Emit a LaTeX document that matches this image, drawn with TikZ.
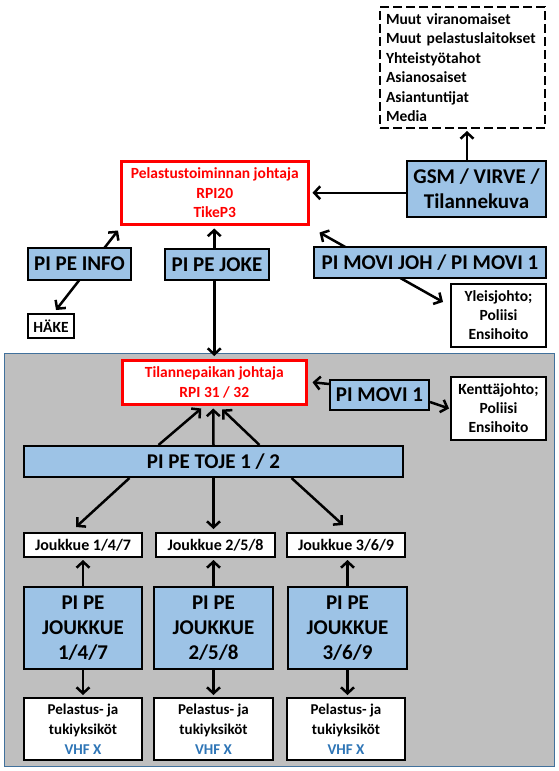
\documentclass[tikz,border=0pt]{standalone}
\usepackage{fontspec}
\setmainfont{Carlito}
\usetikzlibrary{arrows.meta,calc}
\definecolor{boxblue}{RGB}{157,195,230}
\definecolor{greybg}{RGB}{191,191,191}
\definecolor{greyedge}{RGB}{65,113,156}
\definecolor{redc}{RGB}{255,0,0}
\definecolor{vhf}{RGB}{46,117,182}
\pgfdeclarelayer{bg}\pgfdeclarelayer{conn}\pgfsetlayers{bg,conn,main}
\newcommand\fsz[2]{\fontsize{#1}{#2}\selectfont\bfseries}
\tikzset{
 box/.style={draw=black, line width=2pt, inner sep=0pt, anchor=north west, align=center},
 bluebox/.style={box, fill=boxblue, font=\fsz{21}{25}},
 whitebox/.style={box, fill=white, font=\fsz{15.5}{19}},
 redbox/.style={box, draw=redc, line width=2.5pt, fill=white, text=redc, font=\fsz{15.5}{19.5}},
 arr/.style={line width=2.5pt, -{Straight Barb[length=6pt,width=13pt]}},
 darr/.style={line width=2.5pt, {Straight Barb[length=6pt,width=13pt]}-{Straight Barb[length=6pt,width=13pt]}},
}
\begin{document}
\begin{tikzpicture}[x=1pt,y=-1pt]
\useasboundingbox (0,0) rectangle (559,771);
\begin{pgfonlayer}{bg}
\fill[white] (0,0) rectangle (559,771);
\draw[fill=greybg, draw=greyedge, line width=1pt] (4,353) rectangle (554,766);
\end{pgfonlayer}

% top part
\node[box, dash pattern=on 9pt off 4pt, fill=white, minimum height=121pt, text width=153pt, inner xsep=6pt, align=left, font=\fsz{15.5}{19.5}] (dash) at (379,6)
 {Muut viranomaiset\\Muut pelastuslaitokset\\Yhteistyötahot\\Asianosaiset\\Asiantuntijat\\Media};
\node[redbox, minimum width=187pt, minimum height=63pt] (red1) at (120,160) {Pelastustoiminnan johtaja\\RPI20\\TikeP3};
\node[bluebox, minimum width=139pt, minimum height=56pt] (gsm) at (406,160) {GSM / VIRVE /\\Tilannekuva};
\node[bluebox, minimum width=103pt, minimum height=32pt] (info) at (27,247) {PI PE INFO};
\node[whitebox, minimum width=46pt, minimum height=24pt] (hake) at (27,313) {HÄKE};
\node[bluebox, minimum width=104pt, minimum height=31pt] (joke) at (164,248) {PI PE JOKE};
\node[bluebox, minimum width=232pt, minimum height=31pt] (movijoh) at (313,246) {PI MOVI JOH / PI MOVI 1};
\node[whitebox, minimum width=95pt, minimum height=63pt] (yleis) at (450,283) {Yleisjohto;\\Poliisi\\Ensihoito};

% grey part
\node[redbox, minimum width=184pt, minimum height=44pt] (red2) at (121,359) {Tilannepaikan johtaja\\RPI 31 / 32};
\node[bluebox, minimum width=99pt, minimum height=30pt] (movi1) at (329,379) {PI MOVI 1};
\node[whitebox, minimum width=95pt, minimum height=63pt] (kentta) at (450,376) {Kenttäjohto;\\Poliisi\\Ensihoito};
\node[bluebox, minimum width=379pt, minimum height=31pt] (toje) at (23,445) {PI PE TOJE 1 / 2};

\node[whitebox, minimum width=118pt, minimum height=24pt, font=\fsz{16}{19}] (jA) at (23,532) {Joukkue 1/4/7};
\node[whitebox, minimum width=119pt, minimum height=24pt, font=\fsz{16}{19}] (jB) at (155,532) {Joukkue 2/5/8};
\node[whitebox, minimum width=118pt, minimum height=24pt, font=\fsz{16}{19}] (jC) at (286,532) {Joukkue 3/6/9};

\node[bluebox, minimum width=118pt, minimum height=82pt] (pA) at (23,586) {PI PE\\JOUKKUE\\1/4/7};
\node[bluebox, minimum width=119pt, minimum height=82pt] (pB) at (153,586) {PI PE\\JOUKKUE\\2/5/8};
\node[bluebox, minimum width=119pt, minimum height=82pt] (pC) at (287,586) {PI PE\\JOUKKUE\\3/6/9};

\node[whitebox, minimum width=118pt, minimum height=62pt, font=\fsz{15}{20}] (uA) at (23,697) {Pelastus- ja\\tukiyksiköt\\{\color{vhf}VHF X}};
\node[whitebox, minimum width=119pt, minimum height=62pt, font=\fsz{15}{20}] (uB) at (153,697) {Pelastus- ja\\tukiyksiköt\\{\color{vhf}VHF X}};
\node[whitebox, minimum width=118pt, minimum height=62pt, font=\fsz{15}{20}] (uC) at (286,697) {Pelastus- ja\\tukiyksiköt\\{\color{vhf}VHF X}};

\begin{pgfonlayer}{conn}
\draw[arr] (467,0 |- gsm.north) -- ($(467,0 |- dash.south)+(0,2)$);
\draw[arr] (gsm.west |- red1.east) -- ($(red1.east)+(3,0)$);
\coordinate (infoA) at ($(hake.north)+(5,-3)$);
\coordinate (infoB) at ($(red1.south west)+(-2,5)$);
\draw[darr] (infoA) -- (infoB);
\draw[darr] ($(red1.south -| red2.north)+(0,3)$) -- ($(red2.north)+(0,-3)$);
\coordinate (movA) at ($(red1.south east)+(10,7)$);
\coordinate (movB) at ($(yleis.north west)+(-7,19)$);
\draw[darr] (movA) -- (movB);

\draw[arr] ($(movi1.north west)+(0,5)$) -- ($(red2.east)+(5,0)$);
\draw[arr] ($(movi1.south east)+(0,-9)$) -- ($(kentta.west)+(-1,0)$);

\draw[arr] ($(toje.north)+(-55,0)$) -- ($(red2.south)+(-13,3)$);
\draw[arr] ($(toje.north)+(0,0)$) -- ($(red2.south)+(-1,3)$);
\draw[arr] ($(toje.north)+(46,0)$) -- ($(red2.south)+(8,4)$);

\draw[arr] ($(toje.south)+(-84,0)$) -- ($(jA.north)+(-7,-5)$);
\draw[arr] ($(toje.south)+(0,0)$) -- ($(toje.south |- jB.north)+(0,-3)$);
\draw[arr] ($(toje.south)+(78,0)$) -- ($(jC.north)+(-3,-7)$);

\foreach \p/\j/\u in {pA/jA/uA, pB/jB/uB, pC/jC/uC}{
  \draw[arr] (\p.north) -- ($(\p.north |- \j.south)+(0,2)$);
  \draw[arr] (\p.south) -- ($(\p.south |- \u.north)+(0,-2)$);
}
\end{pgfonlayer}
\end{tikzpicture}
\end{document}
